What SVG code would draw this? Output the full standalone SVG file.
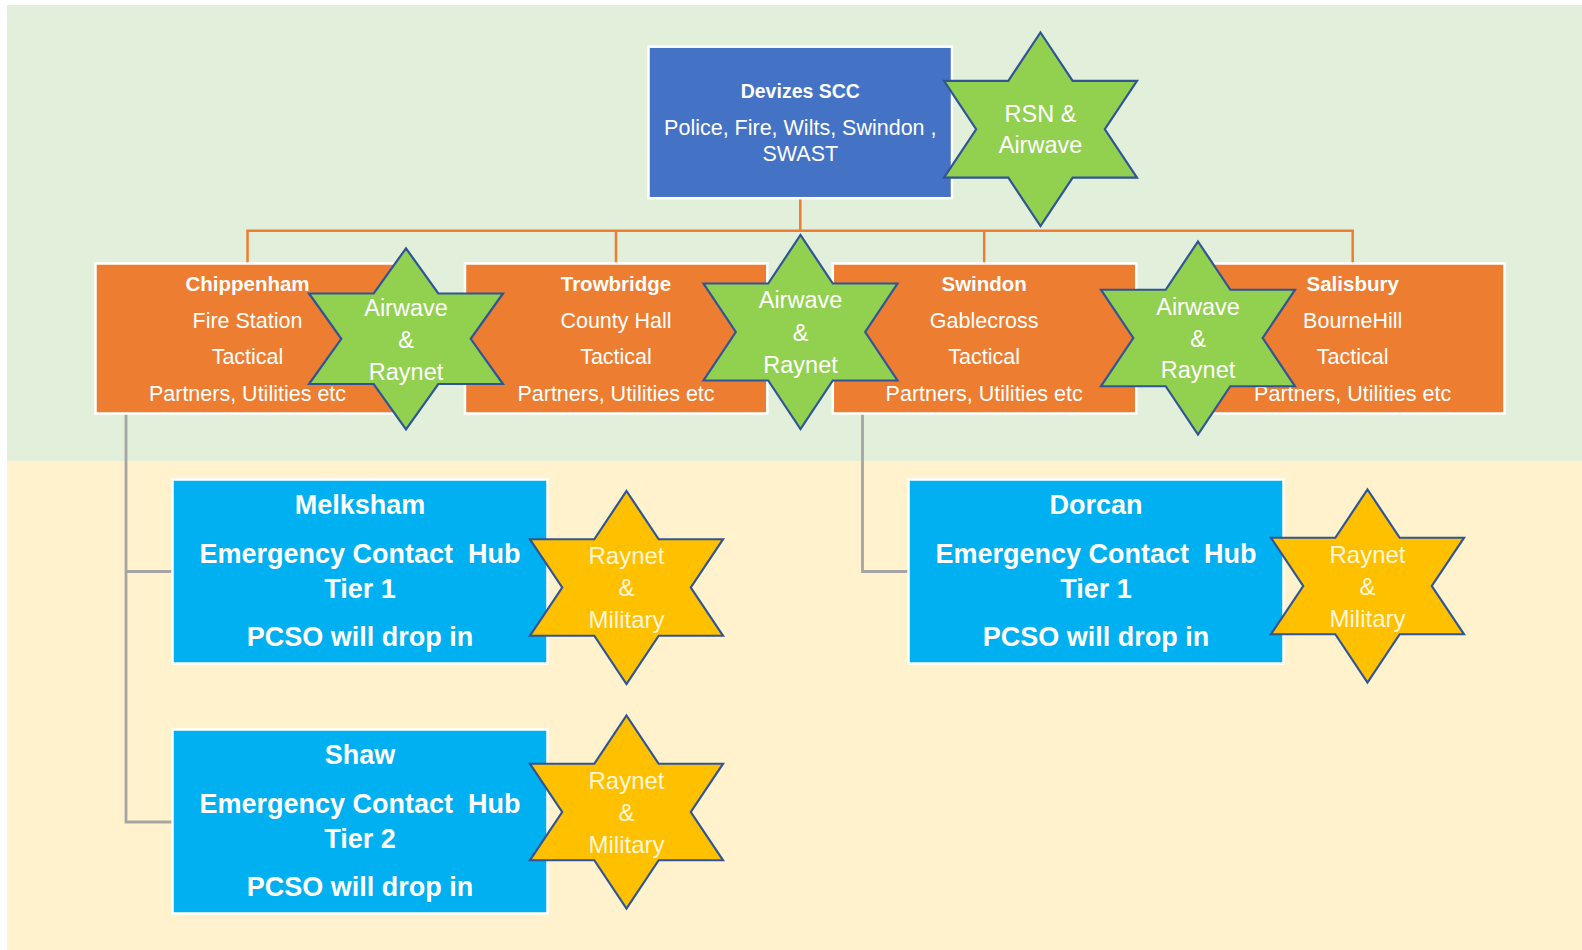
<svg xmlns="http://www.w3.org/2000/svg" width="1582" height="950" viewBox="0 0 1582 950">
<style>
text{font-family:"Liberation Sans",Arial,sans-serif;fill:#fff;text-anchor:middle}
.scc{fill:#4472C4;stroke:#fff;stroke-width:2.5}
.tac{fill:#ED7D31;stroke:#fff;stroke-width:2.5}
.hub{fill:#00B0F0;stroke:#fff;stroke-width:2.5}
.gs{fill:#92D050;stroke:#2F5597;stroke-width:2.2;stroke-linejoin:miter}
.ys{fill:#FFC000;stroke:#2F5597;stroke-width:2.2;stroke-linejoin:miter}
.oc{fill:none;stroke:#ED7D31;stroke-width:2.5}
.gc{fill:none;stroke:#A5A5A5;stroke-width:2.8}
.t1{font-size:19.5px;font-weight:bold}
.t2{font-size:21.5px}
.tb{font-size:20.5px;font-weight:bold}
.st{font-size:23.5px}
.ysT{font-size:24px;fill:#FFF6DC}
.hb{font-size:27px;font-weight:bold}
</style>
<rect x="0" y="0" width="1582" height="950" fill="#fff"/>
<rect x="7" y="5" width="1575" height="456" fill="#E2EFDA"/>
<rect x="7" y="461" width="1575" height="489" fill="#FFF2CC"/>

<g id="connectors">
<path class="oc" d="M800.3,199 V230.7 M247.5,263 V230.7 H1352.7 V263 M616,230.7 V263 M984.2,230.7 V263"/>
<path class="gc" d="M126,414 V822 H172 M126,571.5 H172 M862.5,414 V571.5 H908"/>
</g>

<g id="devizes">
<rect class="scc" x="648.5" y="46.7" width="303.5" height="151.5"/>
<text class="t1" x="800.3" y="97.7">Devizes SCC</text>
<text class="t2" x="800.3" y="135">Police, Fire, Wilts, Swindon ,</text>
<text class="t2" x="800.3" y="160.7">SWAST</text>
</g>
<g id="star-rsn">
<path class="gs" d="M1040.5,32.5 L1072.67,80.9 L1137,80.9 L1104.83,129.25 L1137,177.6 L1072.67,177.6 L1040.5,226 L1008.33,177.6 L944,177.6 L976.17,129.25 L944,80.9 L1008.33,80.9 Z"/>
<text class="st" x="1040.5" y="121.7">RSN &amp;</text>
<text class="st" x="1040.5" y="153.3">Airwave</text>
</g>

<g id="chippenham">
<rect class="tac" x="95.5" y="263.5" width="303.5" height="150"/>
<text class="tb" x="247.5" y="291">Chippenham</text>
<text class="t2" x="247.5" y="327.5">Fire Station</text>
<text class="t2" x="247.5" y="364">Tactical</text>
<text class="t2" x="247.5" y="400.5">Partners, Utilities etc</text>
</g>
<g id="trowbridge">
<rect class="tac" x="465" y="263.5" width="302.3" height="150"/>
<text class="tb" x="616" y="291">Trowbridge</text>
<text class="t2" x="616" y="327.5">County Hall</text>
<text class="t2" x="616" y="364">Tactical</text>
<text class="t2" x="616" y="400.5">Partners, Utilities etc</text>
</g>
<g id="swindon">
<rect class="tac" x="832.8" y="263.5" width="303.5" height="150"/>
<text class="tb" x="984.2" y="291">Swindon</text>
<text class="t2" x="984.2" y="327.5">Gablecross</text>
<text class="t2" x="984.2" y="364">Tactical</text>
<text class="t2" x="984.2" y="400.5">Partners, Utilities etc</text>
</g>
<g id="salisbury">
<rect class="tac" x="1201" y="263.5" width="303.5" height="150"/>
<text class="tb" x="1352.7" y="291">Salisbury</text>
<text class="t2" x="1352.7" y="327.5">BourneHill</text>
<text class="t2" x="1352.7" y="364">Tactical</text>
<text class="t2" x="1352.7" y="400.5">Partners, Utilities etc</text>
</g>

<g id="star-a">
<path class="gs" d="M406,248.3 L438.3,293.5 L503,293.5 L470.7,338.8 L503,384 L438.3,384 L406,429.3 L373.7,384 L309,384 L341.3,338.8 L309,293.5 L373.7,293.5 Z"/>
<text class="st" x="406" y="316">Airwave</text>
<text class="st" x="406" y="348">&amp;</text>
<text class="st" x="406" y="380">Raynet</text>
</g>
<g id="star-b">
<path class="gs" d="M800.5,235 L832.8,283.5 L897.5,283.5 L865.2,332 L897.5,380.5 L832.8,380.5 L800.5,429 L768.2,380.5 L703.5,380.5 L735.8,332 L703.5,283.5 L768.2,283.5 Z"/>
<text class="st" x="800.5" y="308.3">Airwave</text>
<text class="st" x="800.5" y="341">&amp;</text>
<text class="st" x="800.5" y="373.3">Raynet</text>
</g>
<g id="star-c">
<path class="gs" d="M1198,241.5 L1230.3,289.75 L1295,289.75 L1262.7,338 L1295,386.25 L1230.3,386.25 L1198,434.5 L1165.7,386.25 L1101,386.25 L1133.3,338 L1101,289.75 L1165.7,289.75 Z"/>
<text class="st" x="1198" y="315">Airwave</text>
<text class="st" x="1198" y="347">&amp;</text>
<text class="st" x="1198" y="378.3">Raynet</text>
</g>

<g id="melksham">
<rect class="hub" x="172.5" y="479.5" width="375" height="184"/>
<text class="hb" x="360" y="514">Melksham</text>
<text class="hb" x="360" y="563.3">Emergency Contact &#160;Hub</text>
<text class="hb" x="360" y="598">Tier 1</text>
<text class="hb" x="360" y="646">PCSO will drop in</text>
</g>
<g id="dorcan">
<rect class="hub" x="908.5" y="479.5" width="375" height="184"/>
<text class="hb" x="1096" y="514">Dorcan</text>
<text class="hb" x="1096" y="563.3">Emergency Contact &#160;Hub</text>
<text class="hb" x="1096" y="598">Tier 1</text>
<text class="hb" x="1096" y="646">PCSO will drop in</text>
</g>
<g id="shaw">
<rect class="hub" x="172.5" y="729.5" width="375" height="184"/>
<text class="hb" x="360" y="764">Shaw</text>
<text class="hb" x="360" y="813.3">Emergency Contact &#160;Hub</text>
<text class="hb" x="360" y="848">Tier 2</text>
<text class="hb" x="360" y="896">PCSO will drop in</text>
</g>

<g id="star-melksham">
<path class="ys" d="M626.5,491 L658.7,539.25 L723,539.25 L690.8,587.5 L723,635.75 L658.7,635.75 L626.5,684 L594.3,635.75 L530,635.75 L562.2,587.5 L530,539.25 L594.3,539.25 Z"/>
<text class="ysT" x="626.5" y="564">Raynet</text>
<text class="ysT" x="626.5" y="596">&amp;</text>
<text class="ysT" x="626.5" y="628">Military</text>
</g>
<g id="star-shaw">
<path class="ys" d="M626.5,715.5 L658.7,763.75 L723,763.75 L690.8,812 L723,860.25 L658.7,860.25 L626.5,908.5 L594.3,860.25 L530,860.25 L562.2,812 L530,763.75 L594.3,763.75 Z"/>
<text class="ysT" x="626.5" y="788.5">Raynet</text>
<text class="ysT" x="626.5" y="820.5">&amp;</text>
<text class="ysT" x="626.5" y="852.5">Military</text>
</g>
<g id="star-dorcan">
<path class="ys" d="M1367.5,489.5 L1399.7,537.75 L1464,537.75 L1431.8,586 L1464,634.25 L1399.7,634.25 L1367.5,682.5 L1335.3,634.25 L1271,634.25 L1303.2,586 L1271,537.75 L1335.3,537.75 Z"/>
<text class="ysT" x="1367.5" y="562.5">Raynet</text>
<text class="ysT" x="1367.5" y="594.5">&amp;</text>
<text class="ysT" x="1367.5" y="626.5">Military</text>
</g>
</svg>
